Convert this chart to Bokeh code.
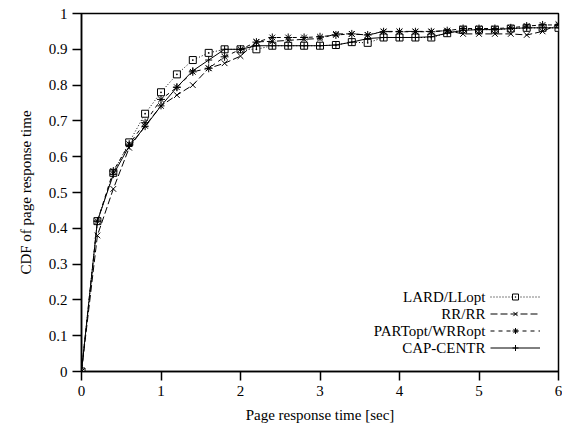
from bokeh.plotting import figure
from bokeh.models import Legend, LegendItem, FixedTicker, Range1d, Label
from bokeh.embed import file_html
from bokeh.resources import INLINE

x_vals = [0.0, 0.2, 0.4, 0.6, 0.8, 1.0, 1.2, 1.4, 1.6, 1.8, 2.0, 2.2, 2.4, 2.6, 2.8, 3.0,
          3.2, 3.4, 3.6, 3.8, 4.0, 4.2, 4.4, 4.6, 4.8, 5.0, 5.2, 5.4, 5.6, 5.8, 6.0]

lard = [0.0, 0.42, 0.555, 0.64, 0.72, 0.78, 0.83, 0.87, 0.89, 0.90, 0.90, 0.90, 0.91, 0.91, 0.91, 0.91,
        0.912, 0.92, 0.918, 0.933, 0.933, 0.933, 0.933, 0.945, 0.955, 0.955, 0.955, 0.958, 0.96, 0.96, 0.96]
rr = [0.0, 0.38, 0.51, 0.625, 0.686, 0.742, 0.772, 0.80, 0.847, 0.861, 0.881, 0.921, 0.922, 0.925, 0.928, 0.93,
      0.943, 0.943, 0.94, 0.95, 0.95, 0.95, 0.95, 0.952, 0.943, 0.943, 0.943, 0.943, 0.94, 0.95, 0.97]
part = [0.0, 0.42, 0.56, 0.635, 0.695, 0.76, 0.794, 0.837, 0.847, 0.879, 0.90, 0.92, 0.933, 0.933, 0.933, 0.935,
        0.94, 0.943, 0.94, 0.949, 0.949, 0.949, 0.949, 0.952, 0.958, 0.958, 0.958, 0.96, 0.965, 0.968, 0.968]
cap = [0.0, 0.42, 0.55, 0.63, 0.684, 0.742, 0.794, 0.84, 0.87, 0.90, 0.90, 0.91, 0.91, 0.91, 0.91, 0.91,
       0.912, 0.92, 0.93, 0.933, 0.933, 0.933, 0.935, 0.945, 0.953, 0.955, 0.955, 0.958, 0.96, 0.96, 0.96]

x_ticks = [0, 1, 2, 3, 4, 5, 6]
y_ticks = [0, 0.1, 0.2, 0.3, 0.4, 0.5, 0.6, 0.7, 0.8, 0.9, 1]

series_names = ["LARD/LLopt", "RR/RR", "PARTopt/WRRopt", "CAP-CENTR"]
FONT = "Liberation Serif"

p = figure(width=562, height=433, output_backend="svg", toolbar_location=None,
           x_range=Range1d(0, 6), y_range=Range1d(0, 1),
           min_border_left=81, min_border_right=4, min_border_top=13, min_border_bottom=62)
p.xgrid.visible = False
p.ygrid.visible = False
p.outline_line_color = "black"
p.outline_line_width = 1.5
p.background_fill_color = "white"

for ax in (p.xaxis[0], p.yaxis[0]):
    ax.major_label_text_font = FONT
    ax.major_label_text_font_size = "15px"
    ax.axis_label_text_font = FONT
    ax.axis_label_text_font_size = "15px"
    ax.axis_label_text_font_style = "normal"
    ax.axis_line_width = 1.5
    ax.major_tick_line_width = 1.5
    ax.major_tick_out = 9
    ax.major_tick_in = 0
    ax.minor_tick_line_color = None
    ax.major_label_text_color = "black"
    ax.axis_label_text_color = "black"

p.xaxis.ticker = FixedTicker(ticks=x_ticks)
p.yaxis.ticker = FixedTicker(ticks=y_ticks)
p.xaxis.axis_label = "Page response time [sec]"
p.yaxis.axis_label = "CDF of page response time"
p.xaxis.major_label_standoff = 5
p.yaxis.major_label_standoff = 5
p.xaxis.axis_label_standoff = 8
p.yaxis.axis_label_standoff = 12

items = []
# LARD/LLopt
l1 = p.line(x_vals, lard, line_color="black", line_width=1, line_dash="1 2")
m1 = p.scatter(x_vals, lard, marker="square_dot", size=7, fill_color="white", line_color="black", line_width=1)
items.append(LegendItem(label=" ", renderers=[l1, m1]))
# RR/RR
l2 = p.line(x_vals, rr, line_color="black", line_width=1, line_dash="7 3")
m2 = p.scatter(x_vals, rr, marker="x", size=8, line_color="black", line_width=1)
items.append(LegendItem(label="  ", renderers=[l2, m2]))
# PARTopt/WRRopt
l3 = p.line(x_vals, part, line_color="black", line_width=1, line_dash="4 4")
m3 = p.scatter(x_vals, part, marker="asterisk", size=8, line_color="black", line_width=1)
items.append(LegendItem(label="   ", renderers=[l3, m3]))
# CAP-CENTR
l4 = p.line(x_vals, cap, line_color="black", line_width=1)
m4 = p.scatter(x_vals, cap, marker="cross", size=7, line_color="black", line_width=1)
items.append(LegendItem(label="    ", renderers=[l4, m4]))

# legend geometry (screen px, relative to the plot frame)
leg_glyph_x = 409
leg_bottom = 16
row_h = 15
row_gap = 2

legend = Legend(items=items, location=(leg_glyph_x, leg_bottom),
                label_text_font=FONT, label_text_font_size="15px",
                glyph_width=50, glyph_height=row_h, spacing=row_gap, padding=0, margin=0,
                border_line_color=None, background_fill_alpha=0, label_standoff=0,
                label_width=1)
p.add_layout(legend, "center")

n = len(series_names)
for i, name in enumerate(series_names):
    yc = leg_bottom + (n - 1 - i) * (row_h + row_gap) + row_h / 2
    p.add_layout(Label(x=leg_glyph_x - 5, y=yc, x_units="screen", y_units="screen",
                       text=name, text_align="right", text_baseline="middle",
                       text_font=FONT, text_font_size="15px", text_color="black"))

open("out.html", "w").write(file_html(p, INLINE))
